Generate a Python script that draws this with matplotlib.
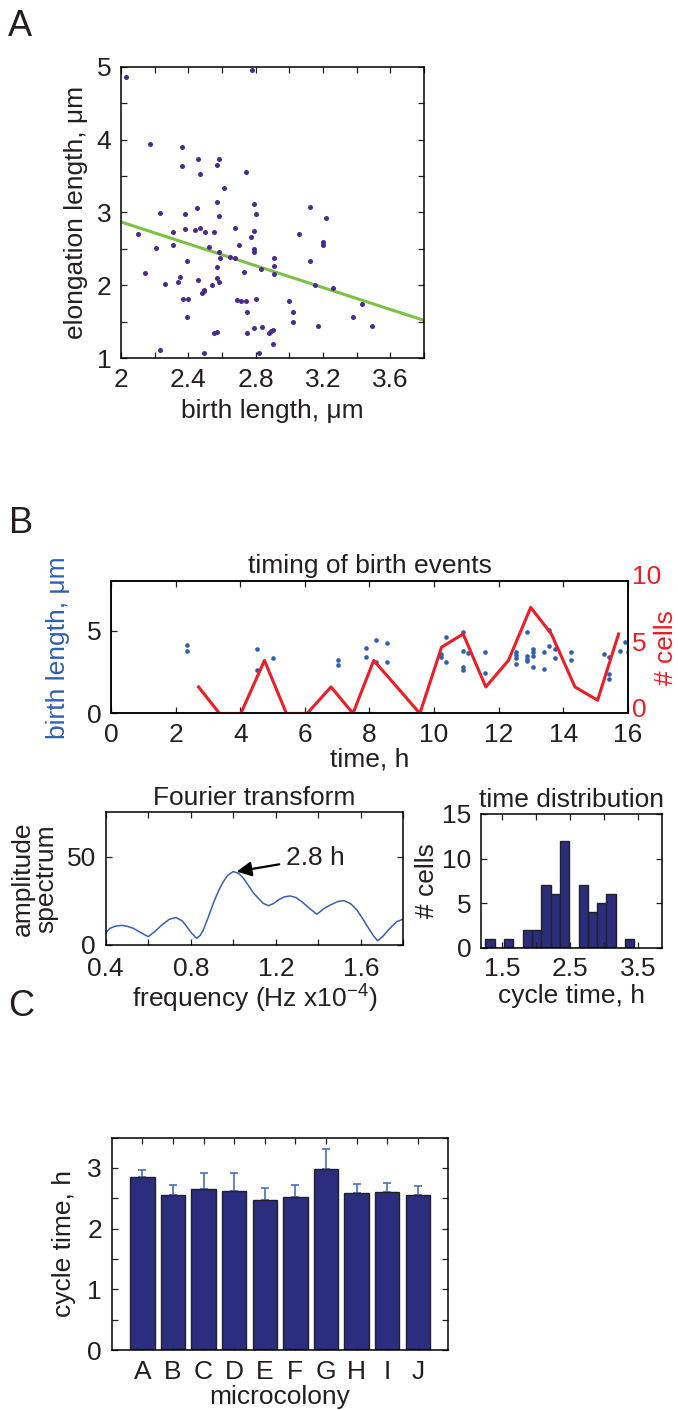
import numpy as np
import matplotlib
matplotlib.use('Agg')
from matplotlib import pyplot as plt
from matplotlib.ticker import MultipleLocator
from matplotlib.transforms import ScaledTranslation

plt.rcParams.update({'font.family': ['Liberation Sans', 'DejaVu Sans'],
                     'font.size': 19,
                     'mathtext.default': 'regular',
                     'text.color': '#231f20',
                     'axes.labelcolor': '#231f20',
                     'xtick.color': '#231f20',
                     'ytick.color': '#231f20',
                     'axes.linewidth': 1.1})

# panel A: elongation vs birth length
birth_len = [2.03, 2.78, 2.17, 2.36, 2.36, 2.46, 2.58, 2.57, 2.47, 2.74, 2.61, 2.57, 2.79, 2.45, 2.23, 2.38,
             2.58, 2.80, 3.12, 3.22, 2.10, 2.31, 2.38, 2.44, 2.47, 2.50, 2.55, 2.68, 2.79, 2.77, 3.06, 2.31,
             2.21, 2.52, 2.70, 2.79, 2.79, 3.20, 3.20, 2.58, 2.59, 2.65, 2.68, 2.91, 2.39, 2.57, 2.91, 2.73,
             2.83, 2.91, 3.12, 2.14, 2.35, 2.46, 2.57, 2.58, 2.34, 2.26, 2.54, 3.15, 3.26, 2.49, 2.49, 2.48,
             2.37, 2.40, 2.69, 2.71, 2.74, 2.80, 3.00, 2.75, 3.02, 3.43, 2.39, 3.38, 3.02, 2.79, 2.84, 3.17,
             3.49, 2.75, 2.55, 2.57, 2.90, 2.89, 2.88, 2.90, 2.23, 2.49, 2.82]
elong_len = [4.86, 4.95, 3.94, 3.90, 3.64, 3.74, 3.74, 3.65, 3.53, 3.55, 3.34, 3.14, 3.11, 3.06, 2.99, 2.98,
             2.95, 2.98, 3.08, 2.92, 2.71, 2.73, 2.77, 2.76, 2.79, 2.73, 2.73, 2.79, 2.74, 2.67, 2.71, 2.56,
             2.51, 2.53, 2.56, 2.50, 2.46, 2.60, 2.55, 2.46, 2.37, 2.39, 2.37, 2.37, 2.33, 2.25, 2.27, 2.18,
             2.22, 2.15, 2.34, 2.17, 2.12, 2.08, 2.10, 2.05, 2.05, 2.02, 2.00, 2.00, 1.97, 1.93, 1.92, 1.89,
             1.82, 1.81, 1.80, 1.79, 1.78, 1.82, 1.79, 1.64, 1.63, 1.75, 1.56, 1.57, 1.50, 1.42, 1.43, 1.44,
             1.44, 1.35, 1.34, 1.36, 1.39, 1.37, 1.35, 1.20, 1.12, 1.07, 1.07]
fit_x = [2.0, 3.8]
fit_y = [2.87, 1.52]
a_xticks = [2, 2.4, 2.8, 3.2, 3.6]
a_xlabels = ['2', '2.4', '2.8', '3.2', '3.6']

# panel B: timing of birth events
event_t = [2.35, 2.35, 4.52, 4.52, 5.02, 7.03, 7.03, 7.88, 7.88, 8.2, 8.2, 8.53, 8.53, 10.2, 10.2, 10.38,
           10.38, 10.9, 10.9, 10.9, 10.9, 11.05, 11.56, 11.56, 12.55, 12.55, 12.55, 12.55, 12.89, 12.89,
           12.89, 12.89, 13.06, 13.06, 13.06, 13.06, 13.4, 13.4, 13.56, 13.56, 13.73, 13.73, 14.23, 14.23,
           15.25, 15.4, 15.4, 15.4, 15.74, 15.9, 16.0]
event_len = [4.13, 3.77, 3.89, 2.65, 3.34, 3.22, 2.92, 3.95, 3.40, 4.43, 3.08, 4.25, 3.10, 3.58, 3.38, 4.64,
             3.12, 4.90, 3.77, 2.81, 2.65, 3.66, 3.73, 2.47, 3.70, 3.52, 3.32, 2.98, 4.90, 3.45, 3.30, 3.15,
             3.91, 3.73, 3.48, 2.81, 3.73, 2.69, 5.04, 4.07, 3.89, 3.36, 3.73, 3.22, 3.56, 3.38, 2.41, 2.05,
             3.79, 4.33, 3.69]
count_t = [2.71, 3.36, 4.02, 4.75, 5.43, 6.07, 6.81, 7.49, 8.13, 8.85, 9.56, 10.23, 10.9, 11.6, 12.3,
           12.99, 13.63, 14.36, 15.06, 15.71]
count_n = [2, 0, 0, 4, 0, 0, 2, 0, 4, 2, 0, 5, 6, 2, 4, 8, 6, 2, 1, 6]

# Fourier transform
freq = [0.40, 0.42, 0.445, 0.475, 0.50, 0.53, 0.565, 0.60, 0.63, 0.664, 0.70, 0.731, 0.76, 0.781, 0.805,
        0.828, 0.845, 0.859, 0.88, 0.906, 0.93, 0.953, 0.975, 1.0, 1.025, 1.048, 1.07, 1.095, 1.118, 1.14,
        1.165, 1.19, 1.212, 1.24, 1.267, 1.295, 1.322, 1.36, 1.393, 1.425, 1.456, 1.49, 1.518, 1.55, 1.581,
        1.61, 1.636, 1.66, 1.678, 1.70, 1.722, 1.745, 1.769, 1.80]
amp = [6.8, 9.4, 10.6, 11.1, 10.6, 9.4, 7.0, 4.7, 7.5, 11.3, 14.6, 15.5, 13.6, 10.4, 6.5,
       3.8, 5.5, 8.5, 15.0, 23.6, 30.5, 35.8, 39.5, 41.5, 40.5, 37.7, 33.8, 29.3, 26.4, 23.6,
       22.2, 23.5, 25.5, 27.2, 27.7, 26.8, 24.5, 20.5, 17.4, 20.5, 22.6, 24.5, 25.1, 23.5, 19.8,
       14.5, 9.4, 5.0, 2.4, 4.5, 7.5, 10.5, 13.2, 14.7]
peak_f, peak_a = 1.016, 41.5

# cycle time distribution
hist_c = [1.328, 1.465, 1.601, 1.738, 1.874, 2.011, 2.148, 2.284, 2.421, 2.557, 2.694, 2.831, 2.967, 3.104,
          3.240, 3.377]
hist_n = [1, 0, 1, 0, 2, 2, 7, 6, 12, 0, 7, 4, 5, 6, 0, 1]

# panel C: cycle time per microcolony
colonies = ['A', 'B', 'C', 'D', 'E', 'F', 'G', 'H', 'I', 'J']
cyc_mean = [2.845, 2.548, 2.647, 2.62, 2.477, 2.526, 2.988, 2.581, 2.609, 2.554]
cyc_err = [0.127, 0.165, 0.264, 0.302, 0.198, 0.187, 0.32, 0.16, 0.143, 0.154]

purple = '#4a2a8f'
green = '#7cc242'
blue = '#2f5fb0'
red = '#ee1c25'
navy = '#2b2d7e'


def matlab_ticks(ax):
    ax.tick_params(which='both', direction='in', top=True, right=True, length=4, width=0.9, pad=7)


fig = plt.figure(figsize=(6.78, 14.10), dpi=100)

# A
ax = fig.add_axes([0.1785, 0.7459, 0.4469, 0.2068])
ax.scatter(birth_len, elong_len, s=13, color=purple, lw=0, zorder=3)
ax.plot(fit_x, fit_y, color=green, lw=2.2)
ax.set_xlim(2, 3.8)
ax.set_ylim(1, 5)
ax.set_xticks(a_xticks)
ax.set_xticklabels(a_xlabels)
ax.xaxis.set_minor_locator(MultipleLocator(0.2))
ax.set_yticks([1, 2, 3, 4, 5])
ax.yaxis.set_minor_locator(MultipleLocator(0.5))
matlab_ticks(ax)
ax.set_xlabel('birth length, μm', labelpad=5)
ax.set_ylabel('elongation length, μm', labelpad=6)

# B top
ax = fig.add_axes([0.1637, 0.4940, 0.7625, 0.0940])
ax.scatter(event_t, event_len, s=11, color=blue, lw=0, zorder=3)
ax.set_xlim(0, 16)
ax.set_ylim(0, 8)
ax.set_xticks(range(0, 17, 2))
ax.set_yticks([0, 5])
matlab_ticks(ax)
ax.set_xlabel('time, h', labelpad=0)
ax.set_ylabel('birth length, μm', color=blue, labelpad=12)
ax.set_title('timing of birth events', fontsize=19, pad=6)
ax2 = ax.twinx()
ax2.plot(count_t, count_n, color=red, lw=2.2)
ax2.set_ylim(0, 10)
ax2.set_yticks([0, 5, 10])
ax2.tick_params(axis='y', length=0, colors=red, labelcolor=red, pad=3)
ax2.set_ylabel('# cells', color=red, va='center')
ax2.yaxis.set_label_coords(1.073, 0.5)
for lbl in ax2.get_yticklabels():
    lbl.set_transform(lbl.get_transform() + ScaledTranslation(0, 0.06, fig.dpi_scale_trans))

# Fourier
ax = fig.add_axes([0.1559, 0.3298, 0.4392, 0.0941])
ax.plot(freq, amp, color='#3a5fb0', lw=1.1)
ax.set_xlim(0.4, 1.8)
ax.set_ylim(0, 75)
ax.set_xticks([0.4, 0.8, 1.2, 1.6])
ax.set_xticklabels(['0.4', '0.8', '1.2', '1.6'])
ax.xaxis.set_minor_locator(MultipleLocator(0.2))
ax.set_yticks([0, 50])
matlab_ticks(ax)
ax.tick_params(axis='x', pad=9)
ax.annotate('2.8 h', xy=(peak_f, peak_a), xytext=(1.248, 49.1), va='center', ha='left',
            arrowprops=dict(arrowstyle='-|>', color='k', lw=1.6, mutation_scale=22, shrinkA=3, shrinkB=0))
ax.set_title('Fourier transform', fontsize=19, pad=5)
ax.set_xlabel('frequency (Hz x10$^{-4}$)', labelpad=1)
ax.set_ylabel('amplitude\nspectrum', linespacing=0.95, labelpad=6)

# histogram
ax = fig.add_axes([0.7094, 0.3279, 0.2670, 0.0948])
ax.bar(hist_c, hist_n, width=0.1366, color=navy, edgecolor='#222222', lw=1)
ax.set_xlim(1.195, 3.85)
ax.set_ylim(0, 15)
ax.set_xticks([1.5, 2.5, 3.5])
ax.set_xticklabels(['1.5', '2.5', '3.5'])
ax.xaxis.set_minor_locator(MultipleLocator(0.5))
ax.set_yticks([0, 5, 10, 15])
matlab_ticks(ax)
ax.set_title('time distribution', fontsize=19, pad=5)
ax.set_xlabel('cycle time, h', labelpad=2)
ax.set_ylabel('# cells', labelpad=2)

# C
ax = fig.add_axes([0.1648, 0.04255, 0.4965, 0.1506])
pos = np.arange(1, len(colonies) + 1)
ax.bar(pos, cyc_mean, width=0.8, color=navy, edgecolor='#222222', lw=1, zorder=2)
ax.errorbar(pos, cyc_mean, yerr=[np.zeros(len(cyc_err)), cyc_err], fmt='none', ecolor='#4a6fc0',
            elinewidth=1.2, capsize=3, capthick=1.2, zorder=1)
ax.set_xlim(0, 11)
ax.set_ylim(0, 3.5)
ax.set_xticks(pos)
ax.set_xticklabels(colonies)
ax.set_yticks([0, 1, 2, 3])
ax.yaxis.set_minor_locator(MultipleLocator(0.5))
matlab_ticks(ax)
ax.set_xlabel('microcolony', labelpad=1)
ax.set_ylabel('cycle time, h', labelpad=8)

# panel letters
fig.text(8 / 678, 1 - 36 / 1410, 'A', fontsize=26, va='baseline')
fig.text(9 / 678, 1 - 533 / 1410, 'B', fontsize=26, va='baseline')
fig.text(8 / 678, 1 - 1016 / 1410, 'C', fontsize=26, va='baseline')

plt.savefig('out.png', dpi=100)
plt.close()
